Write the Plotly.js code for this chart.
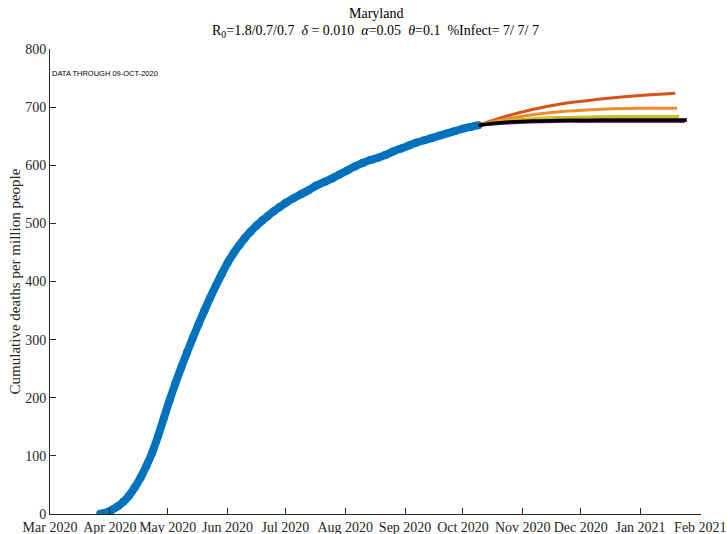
<!DOCTYPE html>
<html>
<head>
<meta charset="utf-8">
<script src="https://cdn.plot.ly/plotly-3.0.1.min.js"></script>
<style>html,body{margin:0;padding:0;background:#fff;} #chart{width:727px;height:534px;}</style>
</head>
<body>
<div id="chart"></div>
<script>
const obsDates = ['2020-03-27','2020-03-29','2020-03-31','2020-04-02','2020-04-05','2020-04-08','2020-04-11','2020-04-14','2020-04-17','2020-04-20','2020-04-23','2020-04-26','2020-04-29','2020-05-02','2020-05-05','2020-05-08','2020-05-11','2020-05-14','2020-05-17','2020-05-20','2020-05-23','2020-05-26','2020-05-29','2020-06-01','2020-06-04','2020-06-07','2020-06-10','2020-06-13','2020-06-16','2020-06-19','2020-06-22','2020-06-25','2020-06-28','2020-07-01','2020-07-05','2020-07-09','2020-07-13','2020-07-17','2020-07-21','2020-07-25','2020-07-29','2020-08-02','2020-08-06','2020-08-10','2020-08-14','2020-08-18','2020-08-22','2020-08-26','2020-08-30','2020-09-03','2020-09-07','2020-09-11','2020-09-15','2020-09-19','2020-09-23','2020-09-27','2020-10-01','2020-10-05','2020-10-09'];
const obsValues = [0.5,1.5,3.5,7,13,21,32,46,63,83,106,134,165,196,225,252,278,303,327,350,372,393,413,432,448,462,475,486,496,505,513,521,528,535,543,550,557,565,571,577,584,591,598,604,609,613,618,624,629,634,639,643,647,651,655,659,663,666,669];

// Projection scenarios
const projDates = ['2020-10-09','2020-10-23','2020-11-06','2020-11-20','2020-12-04','2020-12-18','2021-01-01'];
const projRed    = [669,684,696,705,711,716,720,724];
const projOrange = [669,679,687,692,695,697,698,698];
const projYellow = [669,676,680,682,683,684,684,684];
const projPurple = [669,672,674,675,675,675,675,675];
const projBlack  = [669,674,676,677,677.5,678,678,678];
const endRed = '2021-01-19', endOrange = '2021-01-20', endYellow = '2021-01-21', endPurple = '2021-01-24', endBlack = '2021-01-25';

const titleLine1 = 'Maryland';
const titleLine2 = 'R<sub>0</sub>=1.8/0.7/0.7  <i>δ</i> = 0.010  <i>α</i>=0.05  <i>θ</i>=0.1  %Infect= 7/ 7/ 7';
const yTitle = 'Cumulative deaths per million people';
const dataNote = 'DATA THROUGH 09-OCT-2020';

const serif = 'Liberation Serif, Times New Roman, serif';

function proj(vals, endDate, color, width) {
  return {x: projDates.concat([endDate]), y: vals, type: 'scatter', mode: 'lines',
    line: {color: color, width: width, shape: 'spline'}, hoverinfo: 'skip', showlegend: false};
}

const traces = [
  {x: obsDates, y: obsValues, type: 'scatter', mode: 'lines+markers',
   line: {color: '#0072BD', width: 8, shape: 'spline', smoothing: 1},
   marker: {color: '#0072BD', size: 8}, showlegend: false},
  proj(projRed, endRed, '#D95319', 3),
  proj(projOrange, endOrange, '#EE8E2A', 3),
  proj(projYellow, endYellow, '#D2B92A', 3),
  proj(projPurple, endPurple, '#7E2F8E', 2.5),
  proj(projBlack, endBlack, '#000000', 3.5)
];

const layout = {
  width: 727, height: 534,
  margin: {l: 50, r: 26, t: 49, b: 20},
  paper_bgcolor: '#fff', plot_bgcolor: '#fff',
  font: {family: serif, size: 14, color: '#262626'},
  xaxis: {
    type: 'date', range: ['2020-03-01', '2021-02-01 08:00'],
    dtick: 'M1', tick0: '2020-03-01', tickformat: '%b %Y',
    ticks: 'inside', ticklen: 6, tickcolor: '#262626', tickwidth: 1,
    showline: true, linecolor: '#262626', linewidth: 1,
    showgrid: false, zeroline: false, automargin: false,
    tickfont: {family: serif, size: 14, color: '#262626'}
  },
  yaxis: {
    range: [0, 800], dtick: 100,
    ticks: 'inside', ticklen: 6, tickcolor: '#262626', tickwidth: 1,
    showline: true, linecolor: '#262626', linewidth: 1,
    showgrid: false, zeroline: false, automargin: false,
    tickfont: {family: serif, size: 14, color: '#262626'},
    title: {text: yTitle, font: {family: serif, size: 15, color: '#262626'}, standoff: 0}
  },
  annotations: [
    {text: titleLine1, xref: 'paper', yref: 'paper', x: 0.5, y: 1.0774, xanchor: 'center', yanchor: 'middle',
     showarrow: false, font: {family: serif, size: 14, color: '#000'}},
    {text: titleLine2, xref: 'paper', yref: 'paper', x: 0.5, y: 1.0387, xanchor: 'center', yanchor: 'middle',
     showarrow: false, font: {family: serif, size: 14, color: '#000'}},
    {text: dataNote, xref: 'paper', yref: 'paper',
     x: 0.0, y: 0.948, xanchor: 'left', yanchor: 'middle', showarrow: false,
     font: {family: 'Liberation Sans, Arial, sans-serif', size: 7.5, color: '#000'}}
  ]
};

Plotly.newPlot('chart', traces, layout, {displayModeBar: false, staticPlot: true});
</script>
</body>
</html>
